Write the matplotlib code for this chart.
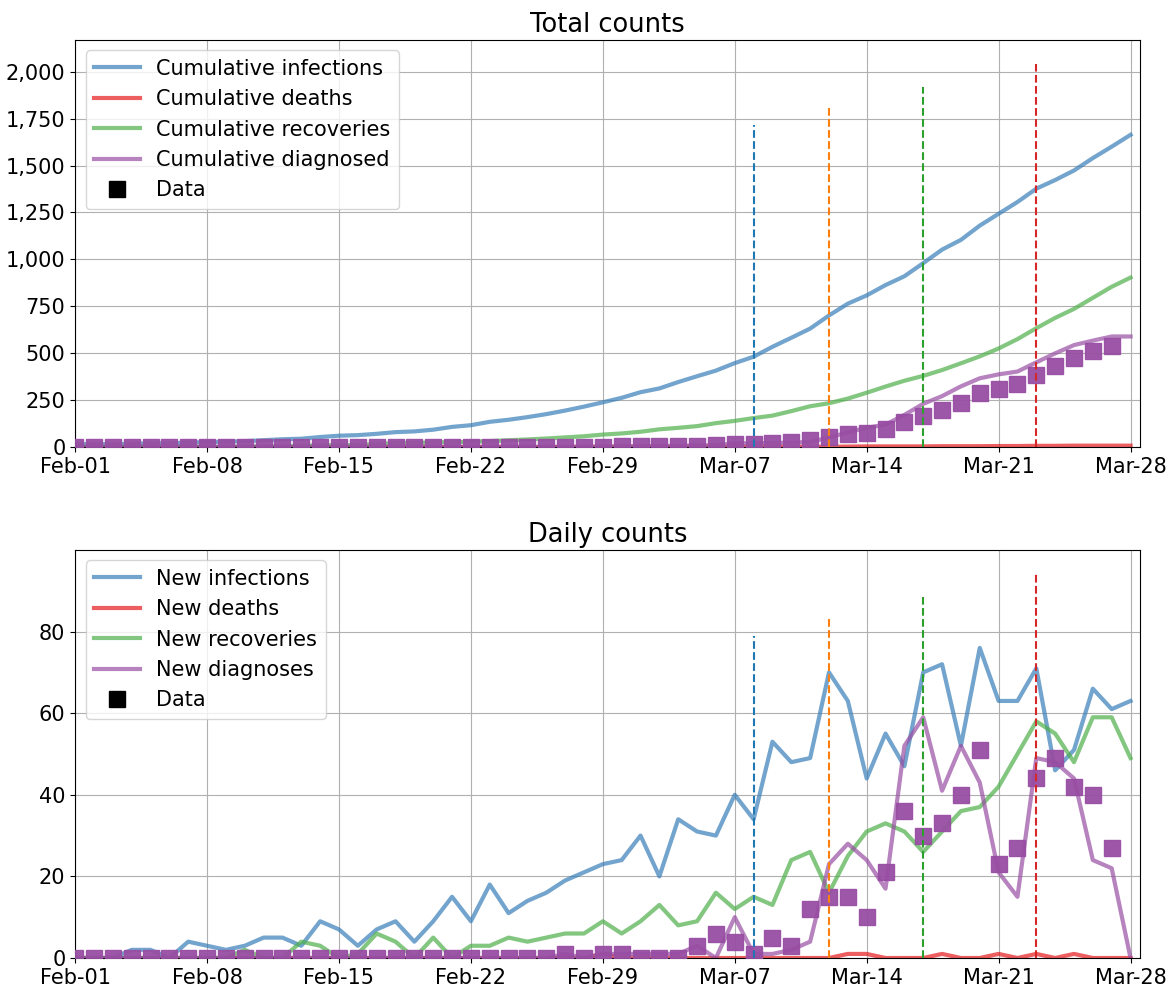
import numpy as np
import pandas as pd
import matplotlib
matplotlib.use('Agg')
import matplotlib.pyplot as plt
import matplotlib.dates as mdates
from matplotlib.ticker import FuncFormatter
from matplotlib.lines import Line2D

plt.rcParams['font.family'] = ['DejaVu Sans']
plt.rcParams['font.size'] = 15

dates = pd.date_range('2020-02-01', '2020-03-28')  # 57 days
data_dates = dates[:-1]  # data stops on Mar-27

# daily model output
new_infections = [0, 0, 0, 2, 2, 0, 4, 3, 2, 3, 5, 5, 3, 9, 7, 3, 7, 9, 4, 9,
                  15, 9, 18, 11, 14, 16, 19, 21, 23, 24, 30, 20, 34, 31, 30, 40, 34, 53, 48, 49,
                  70, 63, 44, 55, 47, 70, 72, 52, 76, 63, 63, 71, 46, 51, 66, 61, 63]
new_deaths = [0] * 28 + [1] + [0] * 12 + [1, 1, 0, 0, 0, 1, 0, 0, 1, 0, 1, 0, 1, 0, 0, 0]
new_recoveries = [0, 0, 0, 0, 0, 0, 0, 0, 0, 2, 0, 0, 4, 3, 0, 1, 6, 4, 0, 5,
                  0, 3, 3, 5, 4, 5, 6, 6, 9, 6, 9, 13, 8, 9, 16, 12, 15, 13, 24, 26,
                  16, 25, 31, 33, 31, 26, 31, 36, 37, 42, 50, 58, 55, 48, 59, 59, 49]
new_diagnoses = [0] * 26 + [1, 0, 1, 1, 1, 1, 1, 3, 0, 10, 1, 1, 2, 4,
                            23, 28, 24, 17, 52, 59, 41, 52, 43, 21, 15, 49, 48, 44, 24, 22, 0]
new_diag_data = [0] * 26 + [1, 0, 1, 1, 0, 0, 0, 3, 6, 4, 1, 5, 3, 12,
                            15, 15, 10, 21, 36, 30, 33, 40, 51, 23, 27, 44, 49, 42, 40, 27]

# cumulative model output
cum_infections = [15, 15, 15, 17, 19, 19, 23, 26, 28, 31, 36, 41, 44, 53, 60, 63, 70, 79, 83, 92,
                  107, 116, 134, 145, 159, 175, 194, 215, 238, 262, 292, 312, 346, 377, 407, 447,
                  481, 534, 582, 631, 701, 764, 808, 863, 910, 980, 1052, 1104, 1180, 1243, 1306,
                  1377, 1423, 1474, 1540, 1601, 1664]
cum_deaths = [0] * 28 + [1] * 13 + [2, 3, 3, 3, 3, 4, 4, 4, 5, 5, 6, 6, 7, 7, 7, 7]
cum_recoveries = [0, 0, 0, 0, 0, 0, 0, 0, 0, 2, 2, 2, 6, 9, 9, 10, 16, 20, 20, 25,
                  25, 28, 31, 36, 40, 45, 51, 57, 66, 72, 81, 94, 102, 111, 127, 139, 154, 167,
                  191, 217, 233, 258, 289, 322, 353, 379, 410, 446, 483, 525, 575, 633, 688, 736,
                  795, 854, 903]
cum_diagnosed = [0] * 26 + [1, 1, 2, 3, 4, 5, 6, 9, 9, 19, 20, 21, 23, 27,
                            50, 78, 102, 119, 171, 230, 271, 323, 366, 387, 402, 451, 499, 543,
                            567, 589, 589]
cum_diag_data = [0] * 26 + [1, 1, 2, 3, 3, 3, 3, 6, 12, 16, 17, 22, 25, 37,
                            52, 67, 77, 98, 134, 164, 197, 237, 288, 311, 338, 382, 431, 473,
                            513, 540]

# intervention dates marked with dashed lines
event_dates = pd.to_datetime(['2020-03-08', '2020-03-12', '2020-03-17', '2020-03-23'])
event_colors = ['tab:blue', 'tab:orange', 'tab:green', 'tab:red']
event_heights = [0.79, 0.835, 0.885, 0.94]

colors = ['#377eb8', '#e41a1c', '#4daf4a', '#984ea3']
sq_color = '#984ea3'

fig = plt.figure(figsize=(11.74, 9.86), dpi=100)
ax1 = fig.add_axes([0.064, 0.5467, 0.907, 0.4128])
ax2 = fig.add_axes([0.064, 0.0284, 0.907, 0.4138])


def draw_panel(ax, series, labels, data, title, ylim, ticks, comma=False):
    for vals, lab, c in zip(series, labels, colors):
        ax.plot(dates, vals, color=c, alpha=0.7, lw=3, label=lab, zorder=2)
    ax.plot(data_dates, data, 's', color=sq_color, alpha=0.95, ms=12, mec=sq_color, zorder=3)
    for d, c, h in zip(event_dates, event_colors, event_heights):
        ax.axvline(d, ymin=0, ymax=h, color=c, ls='--', lw=1.5, zorder=4)
    ax.set_title(title, fontsize=18.5)
    ax.set_ylim(ylim)
    ax.set_yticks(ticks)
    if comma:
        ax.yaxis.set_major_formatter(FuncFormatter(lambda v, p: '{:,.0f}'.format(v)))
    ax.set_xlim(dates[0], dates[-1] + pd.Timedelta(hours=12))
    ax.set_xticks(dates[::7])
    ax.xaxis.set_major_formatter(mdates.DateFormatter('%b-%d'))
    ax.grid(True, color='#b0b0b0', lw=0.8)
    ax.tick_params(labelsize=15)
    handles, labs = ax.get_legend_handles_labels()
    handles.append(Line2D([], [], marker='s', color='k', ls='', ms=12))
    labs.append('Data')
    ax.legend(handles, labs, loc='upper left', fontsize=15, handlelength=2.2)


draw_panel(ax1, [cum_infections, cum_deaths, cum_recoveries, cum_diagnosed],
           ['Cumulative infections', 'Cumulative deaths', 'Cumulative recoveries',
            'Cumulative diagnosed'],
           cum_diag_data, 'Total counts', (0, 2170), np.arange(0, 2001, 250), comma=True)
draw_panel(ax2, [new_infections, new_deaths, new_recoveries, new_diagnoses],
           ['New infections', 'New deaths', 'New recoveries', 'New diagnoses'],
           new_diag_data, 'Daily counts', (0, 100), [0, 20, 40, 60, 80])

fig.savefig('out.png', dpi=100)
